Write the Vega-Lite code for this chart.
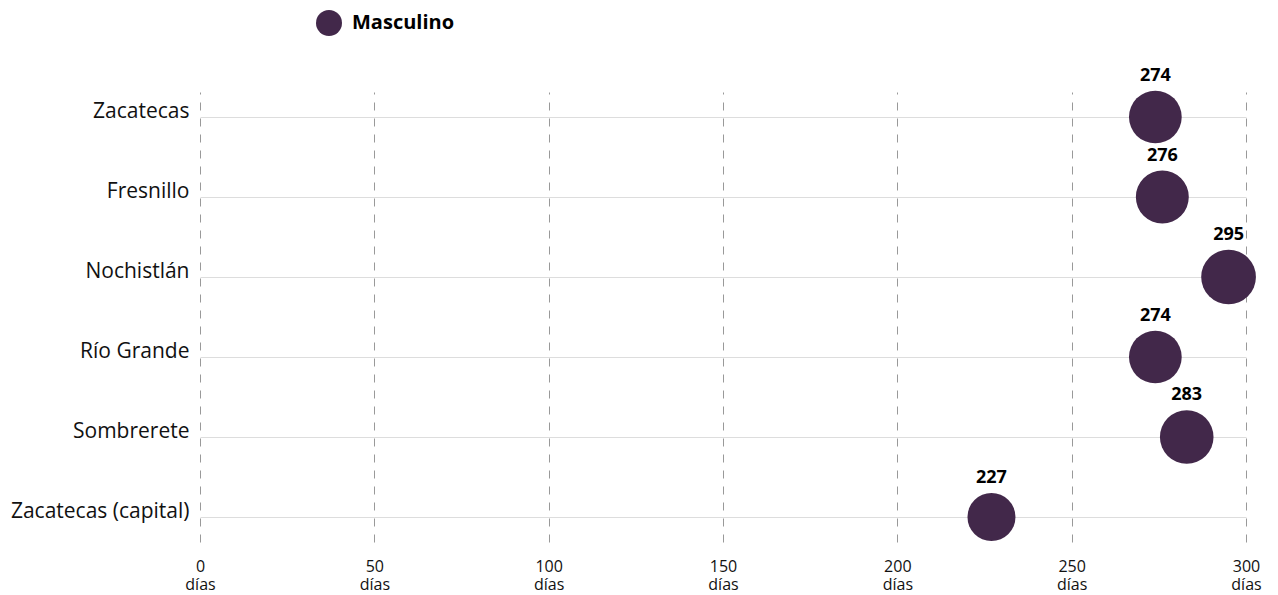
{
  "$schema": "https://vega.github.io/schema/vega-lite/v6.json",
  "width": 1046,
  "height": 450,
  "autosize": "none",
  "padding": {"left": 200, "top": 92, "right": 32, "bottom": 53},
  "background": "white",
  "config": {
    "view": {"stroke": null},
    "font": "Open Sans",
    "text": {"font": "Open Sans"}
  },
  "data": {
    "values": [
      {"municipio": "Zacatecas", "dias": 274, "sexo": "Masculino"},
      {"municipio": "Fresnillo", "dias": 276, "sexo": "Masculino"},
      {"municipio": "Nochistlán", "dias": 295, "sexo": "Masculino"},
      {"municipio": "Río Grande", "dias": 274, "sexo": "Masculino"},
      {"municipio": "Sombrerete", "dias": 283, "sexo": "Masculino"},
      {"municipio": "Zacatecas (capital)", "dias": 227, "sexo": "Masculino"}
    ]
  },
  "encoding": {
    "y": {
      "field": "municipio",
      "type": "nominal",
      "sort": null,
      "scale": {"type": "point", "padding": 0.3125},
      "axis": {
        "title": null,
        "domain": false,
        "ticks": false,
        "labelFontSize": 21,
        "labelFont": "Open Sans",
        "labelColor": "#111111",
        "labelPadding": 11,
        "labelBaseline": "alphabetic",
        "grid": true,
        "gridColor": "#dddddd",
        "gridWidth": 1
      }
    },
    "x": {
      "field": "dias",
      "type": "quantitative",
      "scale": {"domain": [0, 300], "nice": false},
      "axis": {
        "title": null,
        "values": [0, 50, 100, 150, 200, 250, 300],
        "domain": false,
        "ticks": false,
        "labelFlush": false,
        "labelFontSize": 16,
        "labelFont": "Open Sans",
        "labelColor": "#111111",
        "labelPadding": 16,
        "labelLineHeight": 18,
        "labelExpr": "[datum.label, 'días']",
        "grid": true,
        "gridColor": "#999999",
        "gridDash": [8, 8],
        "gridWidth": 1
      }
    }
  },
  "layer": [
    {
      "mark": {"type": "circle", "opacity": 1},
      "encoding": {
        "color": {
          "field": "sexo",
          "type": "nominal",
          "scale": {"range": ["#42284a"]},
          "legend": {
            "title": null,
            "orient": "none",
            "legendX": 115,
            "legendY": -83,
            "symbolSize": 676,
            "symbolType": "circle",
            "symbolOpacity": 1,
            "labelFontSize": 20,
            "labelFontWeight": "bold",
            "labelFont": "Open Sans",
            "labelColor": "#000000",
            "labelOffset": 9
          }
        },
        "size": {
          "field": "dias",
          "type": "quantitative",
          "scale": {"domain": [0, 300], "range": [0, 3045], "zero": true},
          "legend": null
        }
      }
    },
    {
      "mark": {"type": "text", "fontSize": 18, "fontWeight": "bold", "font": "Open Sans", "color": "#000000", "dy": -15, "baseline": "middle"},
      "encoding": {
        "text": {"field": "dias", "type": "quantitative"},
        "yOffset": {
          "field": "dias",
          "type": "quantitative",
          "scale": {"type": "sqrt", "domain": [0, 300], "range": [0, -27.6], "zero": true}
        }
      }
    }
  ]
}
